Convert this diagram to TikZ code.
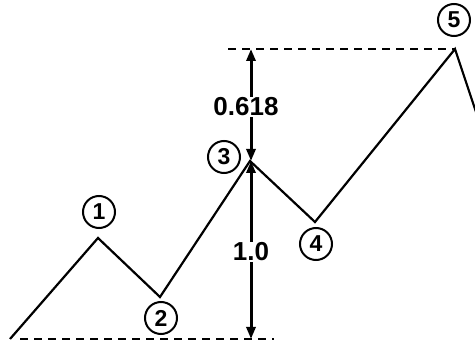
\documentclass[tikz,border=0pt]{standalone}
\usepackage{fontspec}
\setmainfont{Liberation Sans}
\usetikzlibrary{arrows.meta}
\begin{document}
\begin{tikzpicture}[x=1pt,y=-1pt,
  wave/.style={line width=2.2pt,line join=miter},
  level/.style={line width=2pt,dash pattern=on 8pt off 6pt},
  dim/.style={line width=3pt,-{Triangle[length=12pt,width=9pt]}},
  num/.style={draw,circle,line width=2pt,inner sep=0pt,minimum size=32pt,font=\fontsize{23}{23}\selectfont\bfseries},
  ratio/.style={font=\fontsize{26}{26}\selectfont\bfseries,inner sep=1pt}]
\useasboundingbox (0,0) rectangle (475,342);
\coordinate (s) at (10,339);
\coordinate (p1) at (98,238);
\coordinate (p2) at (160,297);
\coordinate (p3) at (250,161);
\coordinate (p4) at (315,222);
\coordinate (p5) at (455,49);
\coordinate (e) at (476,112);
\draw[wave] (s) -- (p1) -- (p2) -- (p3) -- (p4) -- (p5) -- (e);
\coordinate (b1) at (20,339);
\coordinate (b2) at (274,339);
\coordinate (t1) at (228,49);
\draw[level] (b1) -- (b2);
\draw[level] (t1) -- (p5);
\node[num] (n1) at (99,212) {1};
\node[num] (n2) at (161,318) {2};
\node[num] (n3) at (224,157) {3};
\node[num] (n4) at (316,244) {4};
\node[num] (n5) at (454,20) {5};
\node[ratio] (r618) at (246,107) {0.618};
\node[ratio] (r10) at (251,252) {1.0};
\coordinate (a5) at (251,49);
\coordinate (a3) at (251,161);
\coordinate (a0) at (251,339);
\draw[dim] (r618.north -| a5) -- (a5);
\draw[dim] (r618.south -| a3) -- (a3);
\draw[dim] (r10.north -| a3) -- (a3);
\draw[dim] (r10.south -| a0) -- (a0);
\end{tikzpicture}
\end{document}
